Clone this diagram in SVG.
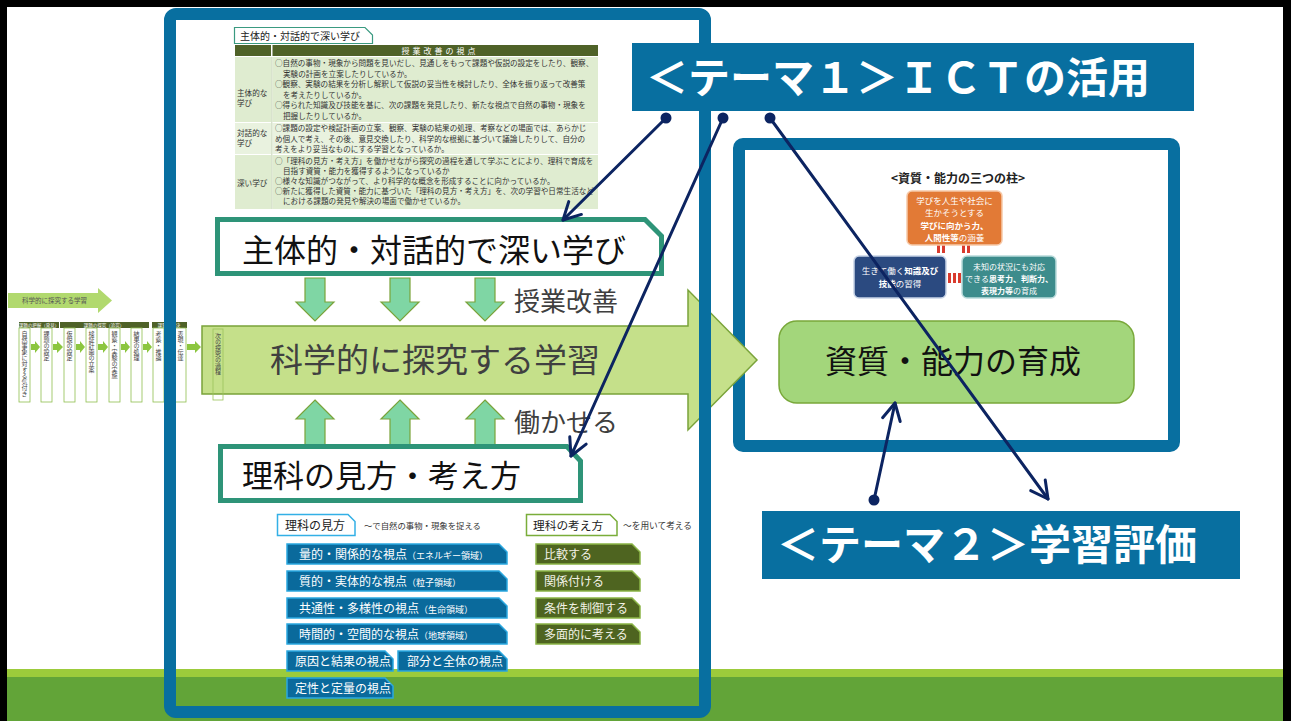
<svg xmlns="http://www.w3.org/2000/svg" width="1291" height="721" viewBox="0 0 1291 721">
<defs>
<style>
text{font-family:"Noto Sans CJK JP","Noto Sans",sans-serif;}
.tbl{font-size:7.6px;fill:#333;}
.lbl{font-size:7.6px;fill:#333;}
.big{font-size:32px;fill:#111;}
.side{font-size:26px;fill:#3f3f3f;}
.btag{fill:#0a6a9c;stroke:#2aa8e0;stroke-width:1.5;}
.gtag{fill:#4e6420;stroke:#8ab446;stroke-width:1.5;}
.tagt{font-size:12px;fill:#fff;}
.tags{font-size:9px;fill:#fff;}
.gtagt{font-size:12px;fill:#f2f2e6;}
.dn{fill:#7fd6a4;stroke:#7aa33a;stroke-width:1.2;}
.vbox{fill:#fff;stroke:#8fbf4f;stroke-width:0.8;}
.vt{font-size:6px;fill:#444;writing-mode:vertical-rl;text-orientation:upright;}
.sarr{fill:#8cc63f;}
.conn{stroke:#0c2461;stroke-width:3;fill:none;stroke-linecap:round;}
.theme{fill:#086fa0;}
.themet{font-size:42px;font-weight:700;fill:#fff;}
.pt{font-size:8.5px;fill:#fff;}
.b{font-weight:700;}
</style>
<marker id="arr" markerUnits="userSpaceOnUse" markerWidth="24" markerHeight="24" viewBox="0 0 24 24" refX="21" refY="12" orient="auto">
<path d="M4,3 L21,12 L4,21" fill="none" stroke="#0c2461" stroke-width="3" stroke-linecap="round" stroke-linejoin="round"/>
</marker>
<marker id="dot" markerUnits="userSpaceOnUse" markerWidth="12" markerHeight="12" viewBox="0 0 12 12" refX="6" refY="6">
<circle cx="6" cy="6" r="5.5" fill="#0c2461"/>
</marker>
</defs>

<rect x="0" y="0" width="1291" height="721" fill="#000"/>
<rect x="7" y="7" width="1276" height="714" fill="#fff"/>

<g id="footer">
<rect x="7" y="669" width="1276" height="8" fill="#9ccb3b"/>
<rect x="7" y="677" width="1276" height="44" fill="#62a438"/>
</g>

<g id="frame-right">
<rect x="739" y="144" width="435" height="302" rx="4" fill="#fff" stroke="#086fa0" stroke-width="12"/>
</g>

<g id="pillars">
<text x="958" y="183" text-anchor="middle" font-size="12" font-weight="700" fill="#222">&lt;資質・能力の三つの柱&gt;</text>
<rect x="937" y="245" width="3" height="8" fill="#d93b2e"/>
<rect x="942" y="245" width="3" height="8" fill="#d93b2e"/>
<rect x="962" y="245" width="3" height="8" fill="#d93b2e"/>
<rect x="967" y="245" width="3" height="8" fill="#d93b2e"/>
<rect x="948" y="273" width="3" height="10" fill="#d93b2e"/>
<rect x="953" y="273" width="3" height="10" fill="#d93b2e"/>
<rect x="958" y="273" width="3" height="10" fill="#d93b2e"/>
<rect x="907" y="191" width="95" height="54" rx="5" fill="#e27a36" stroke="#f6c9a8" stroke-width="1.5"/>
<text class="pt" x="954.5" y="204" text-anchor="middle">学びを人生や社会に</text>
<text class="pt" x="954.5" y="216" text-anchor="middle">生かそうとする</text>
<text class="pt b" x="954.5" y="229" text-anchor="middle">学びに向かう力、</text>
<text class="pt" x="954.5" y="241" text-anchor="middle"><tspan class="b">人間性等</tspan>の涵養</text>
<rect x="854" y="256" width="92" height="42" rx="5" fill="#2b4a80" stroke="#c7d3e6" stroke-width="1.5"/>
<text class="pt" x="900" y="274" text-anchor="middle">生きて働く<tspan class="b">知識及び</tspan></text>
<text class="pt" x="900" y="287" text-anchor="middle"><tspan class="b">技能</tspan>の習得</text>
<rect x="962" y="256" width="94" height="42" rx="5" fill="#3d8c8c" stroke="#b8dada" stroke-width="1.5"/>
<text x="1009" y="270" text-anchor="middle" font-size="8" fill="#fff">未知の状況にも対応</text>
<text x="1009" y="282" text-anchor="middle" font-size="8" fill="#fff">できる<tspan class="b">思考力、判断力、</tspan></text>
<text x="1009" y="294" text-anchor="middle" font-size="8" fill="#fff"><tspan class="b">表現力等</tspan>の育成</text>
</g>

<g id="node-shishitsu">
<rect x="779" y="321" width="355" height="82" rx="18" fill="#a3d67b" stroke="#79a83a" stroke-width="1.5"/>
<text class="big" x="953" y="373" text-anchor="middle">資質・能力の育成</text>
</g>

<g id="node-inquiry">
<polygon points="202,326 688,326 688,290 757,360 688,430 688,394 202,394" fill="#c5e08a" stroke="#7aa33a" stroke-width="1.5"/>
<text x="435" y="372" text-anchor="middle" font-size="33" fill="#404040">科学的に探究する学習</text>
<rect x="213" y="329" width="10" height="71" fill="none" stroke="#9cc35a" stroke-width="0.8"/>
<text class="vt" x="218" y="333">次の探究の過程</text>
</g>

<g id="small-flow">
<polygon points="8,293 98,293 98,288 112,300.5 98,313 98,308 8,308" fill="#b1d96e"/>
<text x="22" y="303" font-size="6.5" fill="#555">科学的に探究する学習</text>
<rect x="19" y="322" width="40" height="6" fill="#4f6228"/>
<rect x="60" y="322" width="89" height="6" fill="#4f6228"/>
<rect x="152" y="322" width="35" height="6" fill="#4f6228"/>
<text x="39" y="327" font-size="4.5" fill="#fff" text-anchor="middle">課題の把握（発見）</text>
<text x="104" y="327" font-size="4.5" fill="#fff" text-anchor="middle">課題の探究（追究）</text>
<text x="169" y="327" font-size="4.5" fill="#fff" text-anchor="middle">課題の解決</text>
<rect class="vbox" x="19" y="328" width="11" height="74"/>
<rect class="vbox" x="41" y="328" width="11" height="74"/>
<rect class="vbox" x="64" y="328" width="11" height="74"/>
<rect class="vbox" x="86" y="328" width="11" height="74"/>
<rect class="vbox" x="109" y="328" width="11" height="74"/>
<rect class="vbox" x="131" y="328" width="11" height="74"/>
<rect class="vbox" x="153" y="328" width="11" height="74"/>
<rect class="vbox" x="175" y="328" width="11" height="74"/>
<text class="vt" x="24.5" y="331">自然事象に対する気付き</text>
<text class="vt" x="46.5" y="331">課題の設定</text>
<text class="vt" x="69.5" y="331">仮説の設定</text>
<text class="vt" x="91.5" y="331">検証計画の立案</text>
<text class="vt" x="114.5" y="331">観察・実験の実施</text>
<text class="vt" x="136.5" y="331">結果の処理</text>
<text class="vt" x="158.5" y="331">考察・推論</text>
<text class="vt" x="180.5" y="331">表現・伝達</text>
<polygon class="sarr" points="31,344 35,344 35,341 40,347 35,353 35,350 31,350"/>
<polygon class="sarr" points="53,344 57,344 57,341 63,347 57,353 57,350 53,350"/>
<polygon class="sarr" points="76,344 80,344 80,341 85,347 80,353 80,350 76,350"/>
<polygon class="sarr" points="98,344 103,344 103,341 108,347 103,353 103,350 98,350"/>
<polygon class="sarr" points="121,344 125,344 125,341 130,347 125,353 125,350 121,350"/>
<polygon class="sarr" points="143,344 147,344 147,341 152,347 147,353 147,350 143,350"/>
<polygon class="sarr" points="165,344 169,344 169,341 174,347 169,353 169,350 165,350"/>
<polygon class="sarr" points="187,344 195,344 195,341 201,347 195,353 195,350 187,350"/>
</g>

<g id="table">
<path d="M234.5,27.5 H365 L372.5,35 V43.5 H234.5 Z" fill="#fff" stroke="#3a9a80" stroke-width="1.2"/>
<text x="240" y="39.5" font-size="10" fill="#222">主体的・対話的で深い学び</text>
<rect x="235" y="45" width="36" height="11" fill="#4f6228"/>
<rect x="272.5" y="45" width="325.5" height="11" fill="#4f6228"/>
<text x="440" y="53.5" font-size="8" fill="#fff" text-anchor="middle" letter-spacing="3">授業改善の視点</text>
<rect x="235" y="57" width="36" height="65" fill="#dfecd0"/>
<rect x="272.5" y="57" width="325.5" height="65" fill="#dfecd0"/>
<rect x="235" y="123" width="36" height="31" fill="#e9f2df"/>
<rect x="272.5" y="123" width="325.5" height="31" fill="#e9f2df"/>
<rect x="235" y="155" width="36" height="54" fill="#dfecd0"/>
<rect x="272.5" y="155" width="325.5" height="54" fill="#dfecd0"/>
<line x1="271.8" y1="57" x2="271.8" y2="209" stroke="#b9cda5" stroke-width="0.8"/>
<text class="lbl" x="237" y="96">主体的な</text>
<text class="lbl" x="237" y="106">学び</text>
<text class="lbl" x="237" y="136">対話的な</text>
<text class="lbl" x="237" y="146">学び</text>
<text class="lbl" x="237" y="186">深い学び</text>
<text class="tbl" x="275" y="66">○自然の事物・現象から問題を見いだし、見通しをもって課題や仮説の設定をしたり、観察、</text>
<text class="tbl" x="283" y="76.5">実験の計画を立案したりしているか。</text>
<text class="tbl" x="275" y="87">○観察、実験の結果を分析し解釈して仮説の妥当性を検討したり、全体を振り返って改善策</text>
<text class="tbl" x="283" y="97.5">を考えたりしているか。</text>
<text class="tbl" x="275" y="108">○得られた知識及び技能を基に、次の課題を発見したり、新たな視点で自然の事物・現象を</text>
<text class="tbl" x="283" y="118.5">把握したりしているか。</text>
<text class="tbl" x="275" y="131">○課題の設定や検証計画の立案、観察、実験の結果の処理、考察などの場面では、あらかじ</text>
<text class="tbl" x="275" y="141.5">め個人で考え、その後、意見交換したり、科学的な根拠に基づいて議論したりして、自分の</text>
<text class="tbl" x="275" y="152">考えをより妥当なものにする学習となっているか。</text>
<text class="tbl" x="275" y="164">○「理科の見方・考え方」を働かせながら探究の過程を通して学ぶことにより、理科で育成を</text>
<text class="tbl" x="283" y="174">目指す資質・能力を獲得するようになっているか</text>
<text class="tbl" x="275" y="184">○様々な知識がつながって、より科学的な概念を形成することに向かっているか。</text>
<text class="tbl" x="275" y="194">○新たに獲得した資質・能力に基づいた「理科の見方・考え方」を、次の学習や日常生活など</text>
<text class="tbl" x="283" y="204">における課題の発見や解決の場面で働かせているか。</text>
</g>

<g id="node-fukai">
<path d="M217.5,219.5 H645 L661.5,236 V273.5 H217.5 Z" fill="#fff" stroke="#2e9478" stroke-width="5"/>
<text class="big" x="242" y="262">主体的・対話的で深い学び</text>
</g>

<g id="block-arrows">
<polygon class="dn" points="305,278 325,278 325,302 334,302 315,321 296,302 305,302"/>
<polygon class="dn" points="390,278 410,278 410,302 419,302 400,321 381,302 390,302"/>
<polygon class="dn" points="475,278 495,278 495,302 504,302 485,321 466,302 475,302"/>
<polygon class="dn" points="315,400 334,419 325,419 325,446 305,446 305,419 296,419"/>
<polygon class="dn" points="400,400 419,419 410,419 410,446 390,446 390,419 381,419"/>
<polygon class="dn" points="485,400 504,419 495,419 495,446 475,446 475,419 466,419"/>
<text class="side" x="514" y="311">授業改善</text>
<text class="side" x="514" y="432">働かせる</text>
</g>

<g id="node-mikata">
<path d="M220.5,446.5 H567 L580.5,461 V500.5 H220.5 Z" fill="#fff" stroke="#2e9478" stroke-width="5"/>
<text x="242" y="487" font-size="31" fill="#111">理科の見方・考え方</text>
</g>

<g id="mikata-list">
<path d="M277.5,514.5 H348 L355,521.5 V535.5 H277.5 Z" fill="#fff" stroke="#33b0e6" stroke-width="1.5"/>
<text x="285" y="530" font-size="12" fill="#222">理科の見方</text>
<text x="364" y="529" font-size="8.4" fill="#333">～で自然の事物・現象を捉える</text>
<path d="M526.5,514.5 H610 L617,521.5 V535.5 H526.5 Z" fill="#fff" stroke="#7aad3a" stroke-width="1.5"/>
<text x="533" y="530" font-size="11.7" fill="#222">理科の考え方</text>
<text x="623" y="529" font-size="8.7" fill="#333">～を用いて考える</text>

<path class="btag" d="M287,544 H499 L507,552 V564 H287 Z"/>
<text class="tagt" x="299" y="559">量的・関係的な視点<tspan class="tags">（エネルギー領域）</tspan></text>
<path class="btag" d="M287,571 H499 L507,579 V591 H287 Z"/>
<text class="tagt" x="299" y="586">質的・実体的な視点<tspan class="tags">（粒子領域）</tspan></text>
<path class="btag" d="M287,598 H499 L507,606 V618 H287 Z"/>
<text class="tagt" x="299" y="613">共通性・多様性の視点<tspan class="tags">（生命領域）</tspan></text>
<path class="btag" d="M287,624 H499 L507,632 V644 H287 Z"/>
<text class="tagt" x="299" y="639">時間的・空間的な視点<tspan class="tags">（地球領域）</tspan></text>
<path class="btag" d="M287,651 H385 L393,659 V671 H287 Z"/>
<text class="tagt" x="295" y="666">原因と結果の視点</text>
<path class="btag" d="M398,651 H499 L507,659 V671 H398 Z"/>
<text class="tagt" x="407" y="666">部分と全体の視点</text>
<path class="btag" d="M287,678 H385 L393,686 V698 H287 Z"/>
<text class="tagt" x="295" y="693">定性と定量の視点</text>

<path class="gtag" d="M536,544 H632 L640,552 V564 H536 Z"/>
<text class="gtagt" x="544" y="559">比較する</text>
<path class="gtag" d="M536,571 H632 L640,579 V591 H536 Z"/>
<text class="gtagt" x="544" y="586">関係付ける</text>
<path class="gtag" d="M536,598 H632 L640,606 V618 H536 Z"/>
<text class="gtagt" x="544" y="613">条件を制御する</text>
<path class="gtag" d="M536,624 H632 L640,632 V644 H536 Z"/>
<text class="gtagt" x="544" y="639">多面的に考える</text>
</g>

<g id="frame-left">
<rect x="170" y="14" width="535" height="698" rx="6" fill="none" stroke="#086fa0" stroke-width="12"/>
</g>

<g id="node-theme1">
<rect class="theme" x="632" y="43" width="562" height="68"/>
<text class="themet" x="646" y="93">＜テーマ１＞ＩＣＴの活用</text>
</g>

<g id="node-theme2">
<rect class="theme" x="762" y="511" width="478" height="68"/>
<text class="themet" x="777" y="560" font-size="43">＜テーマ２＞学習評価</text>
</g>

<g id="connectors">
<line class="conn" x1="666" y1="118" x2="563" y2="220" marker-start="url(#dot)" marker-end="url(#arr)"/>
<line class="conn" x1="723" y1="118" x2="571" y2="456" marker-start="url(#dot)" marker-end="url(#arr)"/>
<line class="conn" x1="770" y1="118" x2="1048" y2="499" marker-start="url(#dot)" marker-end="url(#arr)"/>
<line class="conn" x1="874" y1="500" x2="895" y2="403" marker-start="url(#dot)" marker-end="url(#arr)"/>
</g>
</svg>
